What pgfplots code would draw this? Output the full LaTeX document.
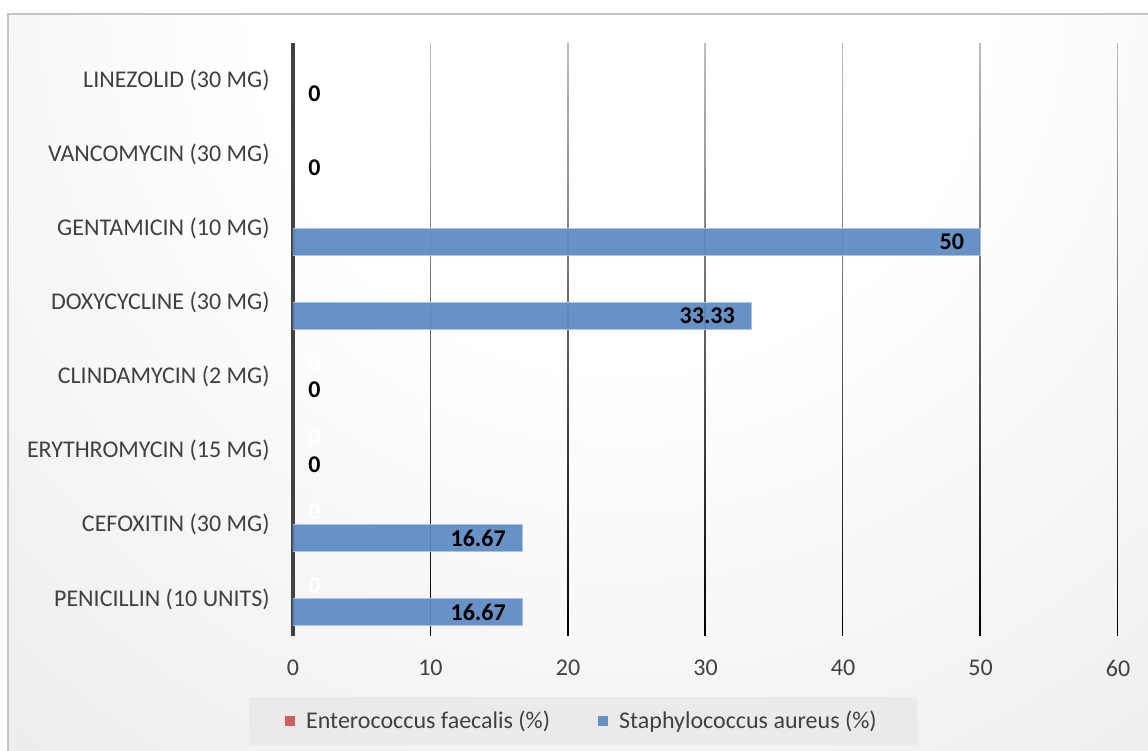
\documentclass[border=0pt]{standalone}
\usepackage{fontspec}
\setmainfont{Carlito}
\usepackage{pgfplots}
\pgfplotsset{compat=1.18}
\usetikzlibrary{fadings}

\definecolor{seriesred}{RGB}{205,96,96}
\definecolor{seriesblue}{RGB}{92,137,193}
\definecolor{blueedge}{RGB}{168,195,230}
\definecolor{txtgray}{RGB}{64,64,64}
\definecolor{bggray}{RGB}{206,206,206}
\definecolor{framegray}{RGB}{196,196,196}
\definecolor{legfill}{RGB}{234,234,234}

% chart area background: white near the top, greying outwards
\pgfdeclareradialshading{chartbg}{\pgfpoint{0bp}{0bp}}%
  {color(0bp)=(white); color(9bp)=(white); color(50bp)=(bggray)}
% vertical grid lines: light at the top, dark at the bottom
\tikzfading[name=gridfade, top color=transparent!75, bottom color=transparent!0]

\newcommand{\lblfont}{\fontsize{12}{14}\selectfont}

\begin{document}
\begin{tikzpicture}[x=1pt,y=1pt]
\useasboundingbox (-146.5,-57.5) rectangle (427.5,318);
\begin{scope}
  \clip (-142.5,-70) rectangle (440,311);
  \fill[bggray] (-142.5,-70) rectangle (440,311);
  \shade[shading=chartbg] (163.5,318) circle (500);
\end{scope}
\draw[framegray, line width=0.7pt] (440,311) -- (-142.5,311) -- (-142.5,-70);

\begin{axis}[
  at={(0,0)}, anchor=south west, scale only axis,
  width=412.5pt, height=296.5pt,
  xbar, bar width=0.365,
  xmin=0, xmax=60, ymin=-0.5, ymax=7.5,
  xtick={0,10,...,60},
  ytick={0,...,7},
  yticklabels={PENICILLIN (10 UNITS), CEFOXITIN (30 MG), ERYTHROMYCIN (15 MG),
    CLINDAMYCIN (2 MG), DOXYCYCLINE (30 MG), GENTAMICIN (10 MG),
    VANCOMYCIN (30 MG), LINEZOLID (30 MG)},
  /pgf/number format/assume math mode=true,
  major tick length=0pt,
  tick label style={font=\lblfont, text=txtgray, inner sep=0pt},
  xticklabel shift=12pt,
  yticklabel shift=11.5pt,
  xmajorgrids,
  major grid style={black, line width=0.75pt, path fading=gridfade},
  axis x line*=bottom,
  axis y line*=left,
  x axis line style={draw=none},
  y axis line style={draw=txtgray, line width=1.6pt, -},
  legend columns=2,
  legend style={at={(0.3515,-0.1433)}, anchor=center, draw=none, fill=legfill,
    font=\lblfont, text=txtgray, inner xsep=18pt, inner ysep=5pt,
    /tikz/every even column/.append style={column sep=22pt}},
  legend image code/.code={%
    \fill[#1, draw=none] (0pt,-2.5pt) rectangle (5pt,2.5pt);
    \path[draw=none, fill=none] (5pt,0pt) -- (8.5pt,0pt);},
]

% Enterococcus faecalis (%)
\addplot[fill=seriesred, draw=none, bar shift=0.1825,
  nodes near coords,
  nodes near coords style={font=\lblfont\bfseries, text=white, anchor=west,
    inner sep=0pt, xshift=7.5pt}]
  coordinates {(0,0) (0,1) (0,2) (0,3) (0,4) (0,5) (0,6) (0,7)};
\addlegendentry{Enterococcus faecalis (\%)}

% Staphylococcus aureus (%), non-zero values, labels inside the bar end
\addplot[fill=seriesblue, fill opacity=0.92, draw=blueedge, line width=0.5pt,
  bar shift=-0.1825,
  nodes near coords,
  nodes near coords style={font=\lblfont\bfseries, text=black, text opacity=1,
    anchor=east, inner sep=0pt, xshift=-8pt}]
  coordinates {(16.67,0) (16.67,1) (33.33,4) (50,5)};
\addlegendentry{Staphylococcus aureus (\%)}

% Staphylococcus aureus (%), zero values, labels beside the axis
\addplot[forget plot, fill=seriesblue, draw=none, bar shift=-0.1825,
  nodes near coords,
  nodes near coords style={font=\lblfont\bfseries, text=black,
    anchor=west, inner sep=0pt, xshift=7.5pt}]
  coordinates {(0,2) (0,3) (0,6) (0,7)};

\end{axis}
\end{tikzpicture}
\end{document}
